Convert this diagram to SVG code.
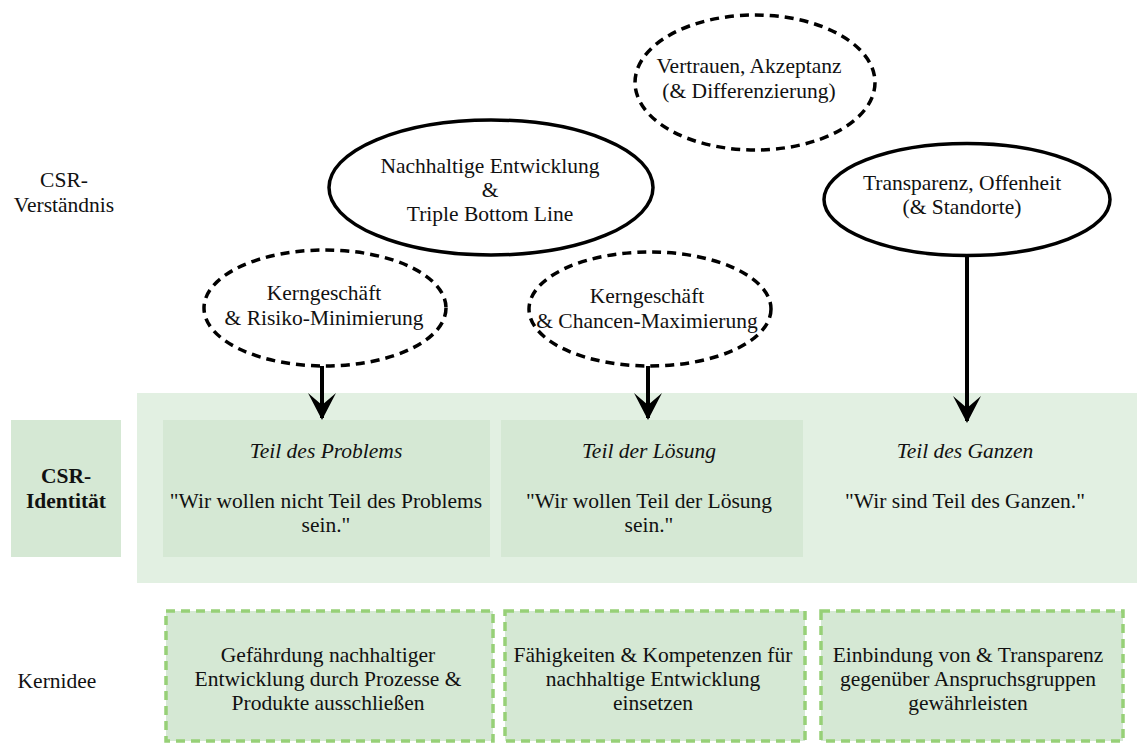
<svg xmlns="http://www.w3.org/2000/svg" width="1137" height="745" viewBox="0 0 1137 745" font-family="'Liberation Serif', 'Times New Roman', 'DejaVu Serif', serif">
<style>
text{font-family:'Liberation Serif','Times New Roman','DejaVu Serif',serif;font-size:21.5px;fill:#111;text-anchor:middle}
.it{font-style:italic}
.b{font-weight:bold}
.solid{fill:#fff;stroke:#000;stroke-width:3.5}
.dash{fill:#fff;stroke:#000;stroke-width:3.5;stroke-dasharray:9 6}
.inner{fill:#d5e8d4}
.kd{fill:#d5e8d4;stroke:#97d077;stroke-width:3.5;stroke-dasharray:9 6}
.conn{stroke:#000;stroke-width:4;fill:none}
</style>
<defs>
<marker id="ah" viewBox="0 0 27 28" refX="25" refY="14" markerWidth="27" markerHeight="28" markerUnits="userSpaceOnUse" orient="auto">
<path d="M27 14 L0 0 L12 14 L0 28 Z" fill="#000"/>
</marker>
</defs>
<rect id="identity-band" x="137" y="393" width="1000" height="190" fill="#e2f0e2"/>
<g id="label-verstaendnis"><text x="64" y="187">CSR-</text><text x="64" y="212">Verständnis</text></g>
<g id="label-identitaet"><rect class="inner" x="11" y="420" width="110" height="137"/><text class="b" x="66" y="483">CSR-</text><text class="b" x="66" y="508">Identität</text></g>
<g id="label-kernidee"><text x="57" y="688">Kernidee</text></g>
<g id="e-vertrauen"><ellipse class="dash" cx="755" cy="82.5" rx="120" ry="67.5"/><text x="749" y="73">Vertrauen, Akzeptanz</text><text x="749" y="98">(&amp; Differenzierung)</text></g>
<g id="e-nachhaltig"><ellipse class="solid" cx="491" cy="187.5" rx="162" ry="67.5"/><text x="490" y="173">Nachhaltige Entwicklung</text><text x="490" y="197">&amp;</text><text x="490" y="221">Triple Bottom Line</text></g>
<g id="e-transparenz"><ellipse class="solid" cx="967" cy="199.5" rx="143" ry="56"/><text x="962" y="190">Transparenz, Offenheit</text><text x="962" y="214">(&amp; Standorte)</text></g>
<g id="e-risiko"><ellipse class="dash" cx="325" cy="308" rx="121" ry="58"/><text x="324" y="300">Kerngeschäft</text><text x="324" y="325">&amp; Risiko-Minimierung</text></g>
<g id="e-chancen"><ellipse class="dash" cx="650" cy="309" rx="121" ry="57"/><text x="647" y="303">Kerngeschäft</text><text x="647" y="328">&amp; Chancen-Maximierung</text></g>
<g id="box-problem"><rect class="inner" x="163" y="420" width="327" height="137"/><text class="it" x="326" y="458">Teil des Problems</text><text x="326" y="508">"Wir wollen nicht Teil des Problems</text><text x="326" y="532">sein."</text></g>
<g id="box-loesung"><rect class="inner" x="501" y="420" width="302" height="137"/><text class="it" x="649" y="458">Teil der Lösung</text><text x="649" y="508">"Wir wollen Teil der Lösung</text><text x="649" y="532">sein."</text></g>
<g id="box-ganzen"><text class="it" x="965" y="458">Teil des Ganzen</text><text x="965" y="508">"Wir sind Teil des Ganzen."</text></g>
<g id="k-1"><rect class="kd" x="166" y="611" width="327" height="130"/><text x="328" y="662">Gefährdung nachhaltiger</text><text x="328" y="686">Entwicklung durch Prozesse &amp;</text><text x="328" y="710">Produkte ausschließen</text></g>
<g id="k-2"><rect class="kd" x="505" y="611" width="300" height="130"/><text x="653" y="662">Fähigkeiten &amp; Kompetenzen für</text><text x="653" y="686">nachhaltige Entwicklung</text><text x="653" y="710">einsetzen</text></g>
<g id="k-3"><rect class="kd" x="821" y="611" width="302" height="130"/><text x="968" y="662">Einbindung von &amp; Transparenz</text><text x="968" y="686">gegenüber Anspruchsgruppen</text><text x="968" y="710">gewährleisten</text></g>
<g id="connectors">
<line class="conn" x1="322" y1="366" x2="322" y2="418" marker-end="url(#ah)"/>
<line class="conn" x1="648" y1="366" x2="648" y2="418" marker-end="url(#ah)"/>
<line class="conn" x1="967" y1="256" x2="967" y2="421" marker-end="url(#ah)"/>
</g>
</svg>
